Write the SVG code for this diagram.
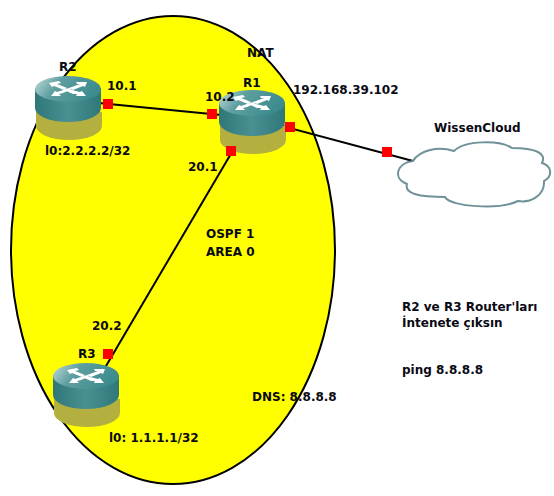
<svg xmlns="http://www.w3.org/2000/svg" width="554" height="496" viewBox="0 0 554 496">
<style>
text{font-family:"DejaVu Sans",Verdana,sans-serif;font-size:12px;font-weight:bold;fill:#0a0a14}
.c{stroke:#000;stroke-width:2;fill:none}
.p{fill:#f00}
.arrow{fill:#fff}
</style>
<defs>
<linearGradient id="top" x1="0" x2="1" y1="0" y2="0.3"><stop offset="0" stop-color="#c4dcdc"/><stop offset=".4" stop-color="#5f9fa0"/><stop offset="1" stop-color="#3d8b8d"/></linearGradient>
<linearGradient id="side" x1="0" x2="1" y1="0" y2="0"><stop offset="0" stop-color="#2f7779"/><stop offset=".5" stop-color="#4a9092"/><stop offset="1" stop-color="#2f7779"/></linearGradient>
<g id="router">
<path d="M-32 13V27A33 14 0 0 0 34 27V13Z" fill="#b4b040" transform="translate(0 1)"/>
<path d="M-33 -10V10A33 14 0 0 0 33 10V-10Z" fill="url(#side)"/>
<ellipse cx="0" cy="-9" rx="33" ry="13" fill="url(#top)"/>
<g class="arrow">
<path d="M-19 -15L-9 -17L-7 -15L-11 -14L-1 -10L-4 -8L-14 -12L-16 -11Z"/>
<path d="M19 -16L8 -16L9 -14L12 -14L1 -10L5 -8L15 -12L17 -11Z"/>
<path d="M-17 -2L-7 -2L-9 -4L-5 -5L4 -9L1 -10L-11 -6L-13 -7Z"/>
<path d="M18 -2L8 -2L9 -4L5 -4L-4 -8L0 -9L12 -6L14 -7Z" />
</g>
</g>
</defs>
<rect width="554" height="496" fill="#fff"/>
<ellipse id="area" cx="173" cy="250" rx="162" ry="234" fill="#ff0" stroke="#000" stroke-width="2"/>
<g id="connectors">
<path class="c" d="M68 100L252 118"/>
<path class="c" d="M252 118L86 400"/>
<path class="c" d="M252 118L413 161"/>
</g>
<g id="R2"><use href="#router" x="68" y="98"/><text x="59" y="71">R2</text></g>
<g id="R1"><use href="#router" x="252" y="112"/><text x="243" y="87">R1</text></g>
<g id="R3"><use href="#router" x="86" y="385"/><text x="78" y="358">R3</text></g>
<g id="WissenCloud">
<path d="M413 161C397 163 392 178 407 184C404 194 420 197 445 197C450 207 500 210 518 201C530 203 545 196 544 181C553 176 552 166 542 163C547 153 535 148 512 148C500 140 465 140 454 151C438 146 420 150 413 161Z" fill="#fff" stroke="#6f9299" stroke-width="2"/>
<text x="434" y="132">WissenCloud</text>
</g>
<g id="ports">
<rect class="p" x="103" y="99" width="10" height="10"/>
<rect class="p" x="207" y="109" width="10" height="10"/>
<rect class="p" x="285" y="122" width="10" height="10"/>
<rect class="p" x="226" y="146" width="10" height="10"/>
<rect class="p" x="103" y="349" width="10" height="10"/>
<rect class="p" x="382" y="147" width="10" height="10"/>
</g>
<g id="labels">
<text x="107" y="90">10.1</text>
<text x="205" y="101">10.2</text>
<text x="293" y="94">192.168.39.102</text>
<text x="247" y="57">NAT</text>
<text x="45" y="155">l0:2.2.2.2/32</text>
<text x="188" y="171">20.1</text>
<text x="206" y="238">OSPF 1</text>
<text x="206" y="256">AREA 0</text>
<text x="92" y="330">20.2</text>
<text x="252" y="401">DNS: 8.8.8.8</text>
<text x="109" y="442">l0: 1.1.1.1/32</text>
<text x="402" y="311">R2 ve R3 Router'ları</text>
<text x="402" y="327">İntenete çıksın</text>
<text x="402" y="374">ping 8.8.8.8</text>
</g>
</svg>
